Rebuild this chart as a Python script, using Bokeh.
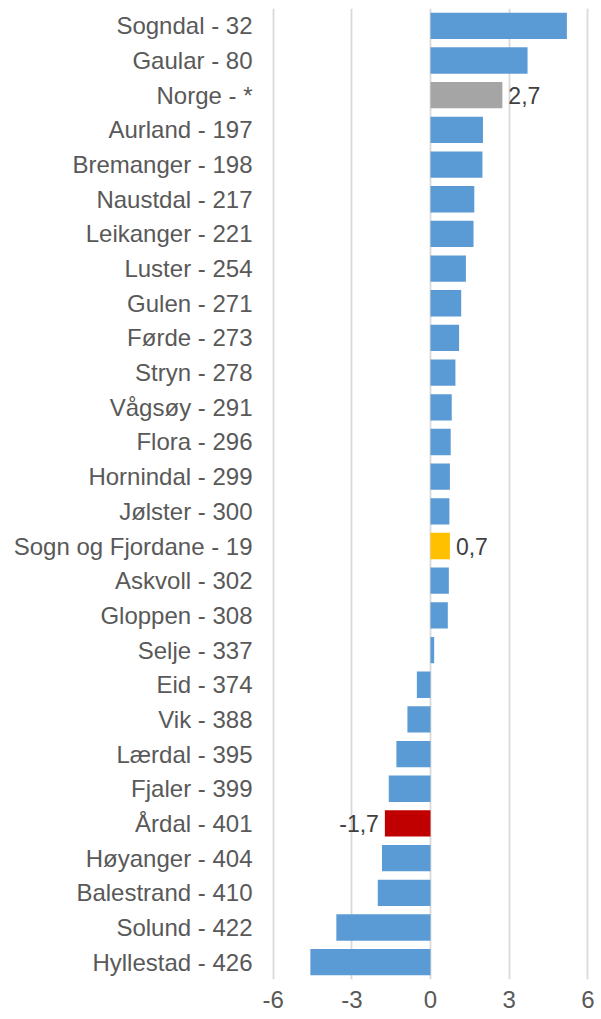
from bokeh.plotting import figure
from bokeh.models import FactorRange, Range1d, FixedTicker, ColumnDataSource
from bokeh.core.properties import value
from bokeh.embed import file_html
from bokeh.resources import INLINE

categories = [
    "Sogndal - 32", "Gaular - 80", "Norge - *", "Aurland - 197", "Bremanger - 198",
    "Naustdal - 217", "Leikanger - 221", "Luster - 254", "Gulen - 271", "Førde - 273",
    "Stryn - 278", "Vågsøy - 291", "Flora - 296", "Hornindal - 299", "Jølster - 300",
    "Sogn og Fjordane - 19", "Askvoll - 302", "Gloppen - 308", "Selje - 337", "Eid - 374",
    "Vik - 388", "Lærdal - 395", "Fjaler - 399", "Årdal - 401", "Høyanger - 404",
    "Balestrand - 410", "Solund - 422", "Hyllestad - 426",
]
values = [
    5.2, 3.7, 2.74, 2.0, 1.98,
    1.67, 1.64, 1.35, 1.17, 1.09,
    0.95, 0.81, 0.77, 0.74, 0.72,
    0.74, 0.7, 0.66, 0.14, -0.52,
    -0.88, -1.3, -1.59, -1.74, -1.85,
    -2.01, -3.59, -4.58,
]
labelled = ["Norge - *", "Sogn og Fjordane - 19", "Årdal - 401"]
x_ticks = [-6, -3, 0, 3, 6]

highlight = {"Norge - *": "#A5A5A5", "Sogn og Fjordane - 19": "#FFC000", "Årdal - 401": "#C00000"}
colors = [highlight.get(c, "#5B9BD5") for c in categories]

src = ColumnDataSource(dict(cat=categories, val=values, color=colors))

FONT = "Liberation Sans"

p = figure(
    width=598, height=1019,
    y_range=FactorRange(factors=list(reversed(categories)), range_padding=0),
    x_range=Range1d(-6.1, 6.1),
    output_backend="svg", toolbar_location=None,
    min_border_left=270, min_border_right=8, min_border_top=8, min_border_bottom=40,
)
p.outline_line_color = None
p.background_fill_color = "white"
p.border_fill_color = "white"

p.hbar(y="cat", left=0, right="val", height=0.76, color="color", line_color=None, source=src)

pos = [(c, v) for c, v in zip(categories, values) if c in labelled and v >= 0]
neg = [(c, v) for c, v in zip(categories, values) if c in labelled and v < 0]
fmt = lambda v: f"{v:.1f}".replace(".", ",")
if pos:
    p.text(x=[v for _, v in pos], y=[c for c, _ in pos], text=[fmt(v) for _, v in pos],
           x_offset=6, text_align="left", text_baseline="middle",
           text_font=value(FONT), text_font_size="23px", text_color="#404040")
if neg:
    p.text(x=[v for _, v in neg], y=[c for c, _ in neg], text=[fmt(v) for _, v in neg],
           x_offset=-6, text_align="right", text_baseline="middle",
           text_font=value(FONT), text_font_size="23px", text_color="#404040")

# grid
p.ygrid.grid_line_color = None
p.xgrid.grid_line_color = "#D9D9D9"
p.xgrid.grid_line_width = 1.8
p.xaxis.ticker = FixedTicker(ticks=x_ticks)
p.xaxis.major_label_overrides = {t: str(t) for t in x_ticks}

for ax in (p.xaxis, p.yaxis):
    ax.axis_line_color = None
    ax.major_tick_line_color = None
    ax.minor_tick_line_color = None
    ax.major_tick_out = 0
    ax.major_tick_in = 0
    ax.major_label_text_font = FONT
    ax.major_label_text_font_size = "24px"
    ax.major_label_text_color = "#595959"

p.yaxis.major_label_standoff = 18
p.xaxis.major_label_standoff = 11

open("out.html", "w").write(file_html(p, INLINE))
